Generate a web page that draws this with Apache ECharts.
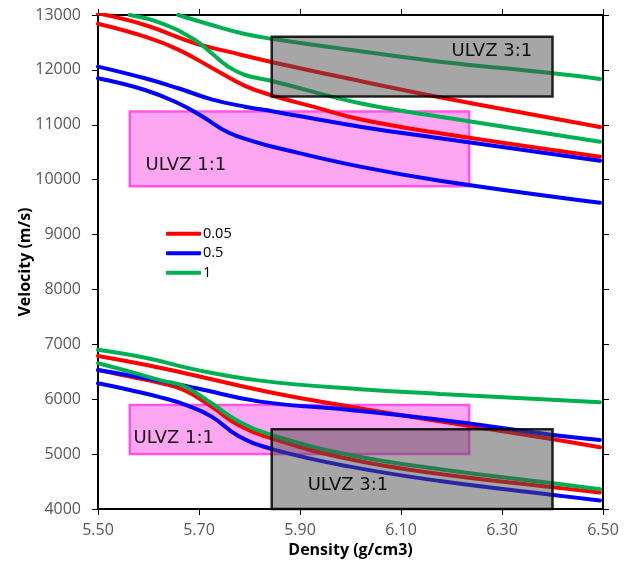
<!DOCTYPE html>
<html><head><meta charset="utf-8">
<script src="https://cdn.jsdelivr.net/npm/echarts@6/dist/echarts.min.js"></script>
<style>html,body{margin:0;padding:0;background:#fff}#c{width:634px;height:564px}</style>
</head><body><div id="c"></div>
<script>
const seriesNames = ['0.05', '0.5', '1'];
const seriesColors = ['#ff0000', '#0000ff', '#00b050'];

// Density (g/cm3), Velocity (m/s)
const redUpperA = [[5.50,13030],[5.593,12818],[5.692,12485],[5.758,12332],[5.850,12131],[6.019,11798],[6.177,11501],[6.494,10960]];
const redUpperB = [[5.50,12840],[5.593,12605],[5.659,12370],[5.725,12040],[5.791,11710],[5.850,11520],[5.926,11330],[6.019,11100],[6.177,10845],[6.494,10419]];
const blueUpperA = [[5.50,12060],[5.593,11847],[5.659,11665],[5.725,11464],[5.791,11330],[5.850,11239],[6.019,10965],[6.177,10754],[6.494,10346]];
const blueUpperB = [[5.50,11847],[5.593,11634],[5.659,11392],[5.705,11160],[5.758,10860],[5.811,10690],[5.850,10590],[6.019,10237],[6.177,9982],[6.494,9580]];
const greenUpperA = [[5.659,13000],[5.725,12818],[5.791,12654],[5.850,12557],[6.019,12340],[6.177,12149],[6.401,11938],[6.494,11834]];
const greenUpperB = [[5.563,13000],[5.626,12849],[5.692,12545],[5.725,12302],[5.758,12058],[5.791,11907],[5.850,11785],[6.019,11392],[6.177,11148],[6.494,10692]];

const greenLowerA = [[5.50,6900],[5.596,6750],[5.695,6534],[5.821,6339],[6.019,6182],[6.177,6097],[6.494,5945]];
const redLowerA = [[5.50,6789],[5.596,6625],[5.672,6473],[5.850,6109],[5.999,5865],[6.177,5600],[6.401,5271],[6.494,5125]];
const blueLowerA = [[5.50,6534],[5.626,6330],[5.695,6200],[5.821,5956],[5.999,5805],[6.177,5625],[6.401,5350],[6.494,5259]];
const greenLowerB = [[5.50,6656],[5.563,6503],[5.626,6340],[5.672,6230],[5.725,5927],[5.778,5600],[5.850,5330],[5.999,4985],[6.177,4725],[6.401,4470],[6.494,4360]];
const redLowerB = [[5.50,6534],[5.563,6412],[5.626,6290],[5.672,6160],[5.725,5865],[5.778,5532],[5.850,5270],[5.999,4907],[6.177,4639],[6.401,4397],[6.494,4299]];
const blueLowerB = [[5.50,6291],[5.563,6169],[5.626,6030],[5.672,5900],[5.725,5683],[5.778,5330],[5.850,5077],[5.999,4772],[6.177,4510],[6.401,4257],[6.494,4153]];

// boxes: [xMin, xMax, yMin, yMax]
const ulvz11Boxes = [[5.563, 6.235, 9880, 11240], [5.563, 6.235, 5000, 5897]];
const ulvz31Boxes = [[5.844, 6.400, 11515, 12605], [5.844, 6.400, 4000, 5453]];
const boxLabels = ['ULVZ 3:1', 'ULVZ 1:1', 'ULVZ 1:1', 'ULVZ 3:1'];
const boxLabelX = [6.28, 5.674, 5.650, 5.995];
const boxLabelY = [12330, 10268, 5295, 4439];

const curves = [
  [0, redUpperA], [0, redUpperB], [0, redLowerA], [0, redLowerB],
  [1, blueUpperA], [1, blueUpperB], [1, blueLowerA], [1, blueLowerB],
  [2, greenUpperA], [2, greenUpperB], [2, greenLowerA], [2, greenLowerB]
];

function rectRenderer(fill, stroke, lw) {
  return function (params, api) {
    const p0 = api.coord([api.value(0), api.value(3)]);
    const p1 = api.coord([api.value(1), api.value(2)]);
    return {
      type: 'rect',
      shape: { x: p0[0], y: p0[1], width: p1[0] - p0[0], height: p1[1] - p0[1] },
      style: { fill: fill, stroke: stroke, lineWidth: lw }
    };
  };
}

const series = [];
series.push({
  type: 'custom', z: 1, silent: true, clip: false,
  renderItem: rectRenderer('#fda6f1', '#ff55e6', 2.5),
  encode: { x: [0, 1], y: [2, 3] },
  data: ulvz11Boxes
});
curves.forEach(function (c) {
  series.push({
    name: seriesNames[c[0]], type: 'line', z: 2,
    data: c[1], symbol: 'none', showSymbol: false,
    smooth: 0.45,
    lineStyle: { color: seriesColors[c[0]], width: 4, cap: 'round' },
    itemStyle: { color: seriesColors[c[0]] }
  });
});
series.push({
  type: 'custom', z: 3, silent: true, clip: false,
  renderItem: rectRenderer('rgba(78,78,78,0.5)', 'rgba(0,0,0,0.85)', 2.5),
  encode: { x: [0, 1], y: [2, 3] },
  data: ulvz31Boxes
});
series.push({
  type: 'custom', z: 4, silent: true,
  renderItem: function (params, api) {
    const p = api.coord([api.value(0), api.value(1)]);
    return {
      type: 'text', x: p[0], y: p[1],
      style: { text: boxLabels[params.dataIndex], font: '18px "DejaVu Sans"', fill: '#111', align: 'center', verticalAlign: 'middle' }
    };
  },
  encode: { x: 0, y: 1 },
  data: boxLabelX.map(function (x, i) { return [x, boxLabelY[i]]; })
});

const axisLine = { show: true, onZero: false, lineStyle: { color: '#000', width: 2 } };
const axisTick = { show: true, length: 6, lineStyle: { color: '#000', width: 1 } };
const labelStyle = { fontFamily: 'Open Sans', fontSize: 16, color: '#595959' };

const option = {
  animation: false,
  backgroundColor: '#fff',
  grid: { left: 98, right: 31, top: 15, bottom: 55 },
  legend: {
    orient: 'vertical', left: 161, top: 221,
    icon: 'roundRect',
    itemWidth: 35, itemHeight: 4, itemGap: 4,
    data: seriesNames,
    textStyle: { fontFamily: 'Open Sans', fontSize: 14.5, color: '#000', padding: [0, 0, 0, -3], lineHeight: 15.5 }
  },
  xAxis: [{
    type: 'value', min: 5.5, max: 6.5, interval: 0.2,
    name: 'Density (g/cm3)', nameLocation: 'middle', nameGap: 30,
    nameTextStyle: { fontFamily: 'Open Sans', fontWeight: 'bold', fontSize: 16, color: '#000' },
    axisLine: axisLine, axisTick: axisTick,
    axisLabel: Object.assign({ margin: 13, formatter: function (v) { return v.toFixed(2); } }, labelStyle),
    splitLine: { show: false }
  }, {
    type: 'value', position: 'top', min: 5.5, max: 6.5, interval: 0.2,
    axisLine: axisLine, axisTick: axisTick, axisLabel: { show: false }, splitLine: { show: false }
  }],
  yAxis: [{
    type: 'value', min: 4000, max: 13000, interval: 1000,
    name: 'Velocity (m/s)', nameLocation: 'middle', nameGap: 65, nameMoveOverlap: false,
    nameTextStyle: { fontFamily: 'Open Sans', fontWeight: 'bold', fontSize: 16, color: '#000' },
    axisLine: axisLine, axisTick: axisTick,
    axisLabel: Object.assign({ margin: 17, formatter: function (v) { return String(Math.round(v)); } }, labelStyle),
    splitLine: { show: false }
  }, {
    type: 'value', position: 'right', min: 4000, max: 13000, interval: 1000,
    axisLine: axisLine, axisTick: axisTick, axisLabel: { show: false }, splitLine: { show: false }
  }],
  series: series
};

const chart = echarts.init(document.getElementById('c'), null, { renderer: 'canvas' });
chart.setOption(option);
</script>
</body></html>
